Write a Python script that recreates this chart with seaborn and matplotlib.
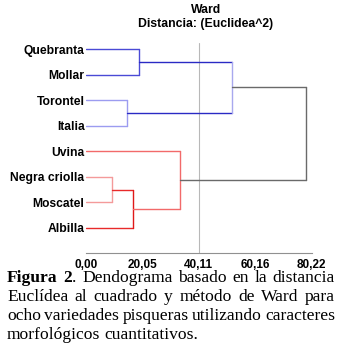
import matplotlib
matplotlib.use("Agg")
import matplotlib.pyplot as plt
import seaborn as sns
import pandas as pd

# ---- data ----
leaves = ["Quebranta", "Mollar", "Torontel", "Italia",
          "Uvina", "Negra criolla", "Moscatel", "Albilla"]
# merges: (child_a, child_b, height); nodes numbered after leaves (8, 9, ...)
merge_a = [0, 2, 8, 5, 11, 4, 10]
merge_b = [1, 3, 9, 6, 7, 12, 13]
merge_h = [19.0, 14.7, 51.9, 9.4, 16.6, 33.6, 78.2]
tick_vals = [0.00, 20.05, 40.11, 60.16, 80.22]
tick_labels = ["0,00", "20,05", "40,11", "60,16", "80,22"]
ref_line = 40.11

arm_colors = ["#4a4ad6", "#9c9cf0", "#2a2ac4", "#f49a9a", "#e82a2a", "#f26a6a", "#6a6a6a"]
vert_colors = ["#4a4ad6", "#9c9cf0", "#a8a8ee", "#f49a9a", "#e01818", "#f26a6a", "#6a6a6a"]

sns.set_style("white")
plt.rcParams["font.family"] = ["Liberation Sans", "DejaVu Sans"]
plt.rcParams["text.color"] = "black"
plt.rcParams["xtick.labelcolor"] = "black"
plt.rcParams["ytick.labelcolor"] = "black"

W, H = 341, 364
fig = plt.figure(figsize=(W / 100, H / 100), dpi=100)
x0, x1 = 86, 311.5
ytop, ybot = 43, 253
ax = fig.add_axes([x0 / W, 1 - ybot / H, (x1 - x0) / W, (ybot - ytop) / H])

# ---- build dendrogram segments ----
n = len(leaves)
node_y = {i: float(i) for i in range(n)}
node_h = {i: 0.0 for i in range(n)}
rows = []
pal = {}
seg = 0
for k, (a, b, h) in enumerate(zip(merge_a, merge_b, merge_h)):
    nid = n + k
    for c in (a, b):
        rows += [(seg, node_h[c], node_y[c]), (seg, h, node_y[c])]
        pal[seg] = arm_colors[k]
        seg += 1
    rows += [(seg, h, node_y[a]), (seg, h, node_y[b])]
    pal[seg] = vert_colors[k]
    seg += 1
    node_y[nid] = (node_y[a] + node_y[b]) / 2
    node_h[nid] = h

df = pd.DataFrame(rows, columns=["seg", "x", "y"])
ax.axvline(ref_line, color="#b8b8b8", lw=0.8, zorder=0)
sns.lineplot(data=df, x="x", y="y", hue="seg", units="seg", estimator=None,
             sort=False, palette=pal, legend=False, lw=1.0, ax=ax)

ax.set_xlim(0, 80.22)
ax.set_ylim(7 + 25 / 25.57, -6 / 25.57)
ax.set_yticks(range(n))
ax.set_yticklabels(leaves, fontsize=8.7, fontweight="bold", color="black")
ax.tick_params(axis="y", length=0, pad=1)
ax.set_xticks(tick_vals)
ax.set_xticklabels(tick_labels, fontsize=8.5, fontweight="bold", color="black")
ax.tick_params(axis="x", direction="in", length=3, color="#909090", pad=4, width=0.8)
for s in ("left", "top", "right"):
    ax.spines[s].set_visible(False)
ax.spines["bottom"].set_color("#909090")
ax.spines["bottom"].set_linewidth(0.8)
ax.set_xlabel("")
ax.set_ylabel("")

fig.text(206 / W, 1 - 10 / H, "Ward", ha="center", va="center",
         fontsize=8.8, fontweight="bold", color="black")
fig.text(206 / W, 1 - 24 / H, "Distancia: (Euclidea^2)", ha="center",
         va="center", fontsize=8.8, fontweight="bold", color="black")

# ---- justified caption ----
cap_font = "Liberation Serif"
cap_size = 12.6
renderer = fig.canvas.get_renderer()


def run_width(text, weight):
    t = fig.text(0, 0, text, fontsize=cap_size, family=cap_font, fontweight=weight)
    w = t.get_window_extent(renderer).width
    t.remove()
    return w


caption = [
    ([[("Figura", "bold")], [("2", "bold"), (".", "normal")], [("Dendograma", "normal")],
      [("basado", "normal")], [("en", "normal")], [("la", "normal")], [("distancia", "normal")]], True),
    ([[(w, "normal")] for w in "Euclídea al cuadrado y método de Ward para".split()], True),
    ([[(w, "normal")] for w in "ocho variedades pisqueras utilizando caracteres".split()], True),
    ([[(w, "normal")] for w in "morfológicos cuantitativos.".split()], False),
]
L, R = 7, 335
line_y = [278, 297, 316, 335]
space_w = run_width("a a", "normal") - 2 * run_width("a", "normal")
for (words, justify), yy in zip(caption, line_y):
    widths = [[run_width(t, wt) for t, wt in word] for word in words]
    total = sum(sum(w) for w in widths)
    gap = (R - L - total) / (len(words) - 1) if justify else space_w
    x = L
    for word, ws in zip(words, widths):
        for (t, wt), w in zip(word, ws):
            fig.text(x / W, 1 - yy / H, t, fontsize=cap_size, family=cap_font,
                     fontweight=wt, ha="left", va="center", color="black")
            x += w
        x += gap

fig.savefig("out.png", dpi=100)
